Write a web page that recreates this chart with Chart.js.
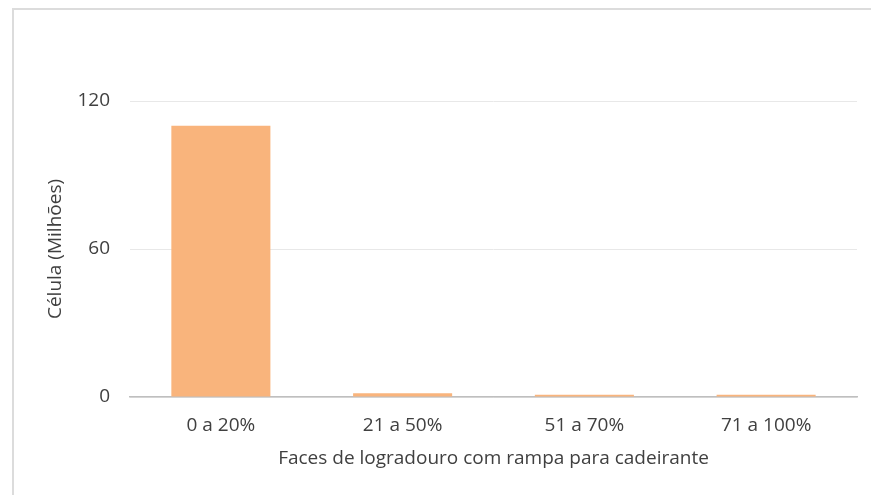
<!DOCTYPE html>
<html>
<head>
<meta charset="utf-8">
<script src="https://cdn.jsdelivr.net/npm/chart.js@4"></script>
<style>
  html, body { margin: 0; background: #fff; overflow: hidden; width: 871px; height: 495px; }
  .frame { position: absolute; left: 12px; top: 8px; width: 900px; height: 520px;
           border-left: 2px solid #dcdcdc; border-top: 2px solid #dcdcdc; }
  #myChart { position: absolute; left: 0; top: 0; }
</style>
</head>
<body>
<div class="frame"></div>
<canvas id="myChart" width="871" height="495"></canvas>
<script>
// data
const categories = ['0 a 20%', '21 a 50%', '51 a 70%', '71 a 100%']
const cellValues = [110, 1.5, 0.9, 0.9]
const yTicks = [0, 60, 120]

const textColor = '#404040'
const font = { family: "'Open Sans', 'Noto Sans', sans-serif", size: 19 }

const ctx = document.getElementById('myChart').getContext('2d')

const myChart = new Chart(ctx, {
  type: 'bar',
  data: {
    labels: categories,
    datasets: [{
      label: 'Célula (Milhões)',
      data: cellValues,
      backgroundColor: '#f9b47c',
      borderWidth: 0,
      barPercentage: 0.545,
      categoryPercentage: 1
    }]
  },
  options: {
    responsive: false,
    animation: false,
    layout: { padding: { top: 101, right: 14, bottom: 0, left: 0 } },
    plugins: { legend: { display: false }, tooltip: { enabled: false } },
    scales: {
      x: {
        grid: { display: false, drawTicks: false },
        border: { color: '#bfbfbf', width: 1.5 },
        ticks: { color: textColor, font: font, padding: 17 },
        title: {
          display: true,
          text: 'Faces de logradouro com rampa para cadeirante',
          color: textColor,
          font: font,
          padding: { top: 0, bottom: 25 }
        },
        afterFit: (s) => { s.height = 98 }
      },
      y: {
        min: 0,
        max: 120,
        afterBuildTicks: (s) => { s.ticks = yTicks.map(v => ({ value: v })) },
        grid: { color: '#e8e8e8', drawTicks: false },
        border: { display: false },
        ticks: { color: textColor, font: font, padding: 20 },
        title: {
          display: true,
          text: 'Célula (Milhões)',
          color: textColor,
          font: font,
          padding: { top: 44, bottom: 0 }
        },
        afterFit: (s) => { s.width = 130 }
      }
    }
  }
})
</script>
</body>
</html>
